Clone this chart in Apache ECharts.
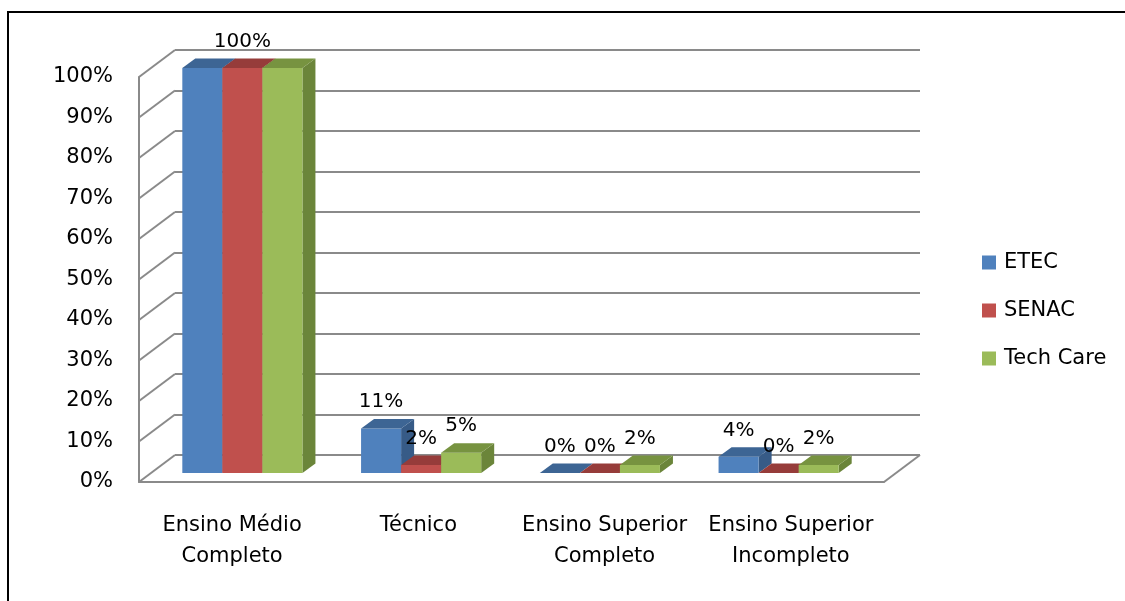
<!DOCTYPE html>
<html>
<head>
<meta charset="utf-8">
<style>
  html, body { margin: 0; padding: 0; background: #fff; }
  #app { width: 1125px; height: 601px; }
</style>
<script src="https://cdn.jsdelivr.net/npm/echarts@6.0.0/dist/echarts.min.js"></script>
</head>
<body>
<div id="app"></div>
<script>
// dados do gráfico
const categories = ['Ensino Médio\nCompleto', 'Técnico', 'Ensino Superior\nCompleto', 'Ensino Superior\nIncompleto'];
const seriesNames = ['ETEC', 'SENAC', 'Tech Care'];
const etec = [1.0, 0.11, 0.0, 0.04];
const senac = [1.0, 0.02, 0.0, 0.0];
const techCare = [1.0, 0.05, 0.02, 0.02];
const seriesValues = [etec, senac, techCare];

const FONT = 'DejaVu Sans';
const GRID_COLOR = '#8a8a8a';
// cores de frente / topo / lateral (estilo 3D do Excel)
const colors = [
  { front: '#4F81BD', top: '#3D6594', side: '#375B87' },
  { front: '#C0504D', top: '#963C3A', side: '#8A3634' },
  { front: '#9BBB59', top: '#779340', side: '#6B853A' }
];
// deslocamento da parede da frente em relação à do fundo
const WALL = [-36, 27];
// profundidade da barra
const DEPTH = [13, -9.5];
const LABEL_SIZE = 20;
const AXIS_SIZE = 21;

const myChart = echarts.init(document.getElementById('app'));

const yTicks = [];
for (let i = 0; i <= 10; i++) yTicks.push(i / 10);

const fmtPct = (v) => Math.round(v * 100) + '%';

function labelWidth(v) {
  return fmtPct(v).length * LABEL_SIZE * 0.6;
}

function barSeries(s) {
  return {
    name: seriesNames[s],
    type: 'custom',
    xAxisIndex: 2,
    yAxisIndex: 2,
    z: 5,
    itemStyle: { color: colors[s].front },
    data: seriesValues[s].map((v, c) => [c, v]),
    renderItem: (params, api) => {
      const c = api.value(0);
      const v = api.value(1);
      const base = api.coord([c, 0]);
      const top = api.coord([c, v]);
      const band = api.size([1, 0])[0];
      const w = band * 0.224;
      const x0 = base[0] - 1.5 * w + s * w;
      const x1 = x0 + w;
      const yb = base[1];
      const yt = top[1];
      const [dx, dy] = DEPTH;
      const children = [
        {
          type: 'polygon',
          shape: { points: [[x1, yt], [x1 + dx, yt + dy], [x1 + dx, yb + dy], [x1, yb]] },
          style: { fill: colors[s].side }
        },
        {
          type: 'rect',
          shape: { x: x0, y: yt, width: w, height: yb - yt },
          style: { fill: colors[s].front }
        },
        {
          type: 'polygon',
          shape: { points: [[x0, yt], [x1, yt], [x1 + dx, yt + dy], [x0 + dx, yt + dy]] },
          style: { fill: colors[s].top }
        }
      ];
      // esconde rótulo que colide com o rótulo da série do meio
      let hide = false;
      if (s !== 1) {
        const mid = seriesValues[1][c];
        const gap = Math.abs(s - 1) * w;
        if (gap < (labelWidth(v) + labelWidth(mid)) / 2 && mid === v) hide = true;
      }
      if (!hide) {
        children.push({
          type: 'text',
          style: {
            x: x0 + w / 2,
            y: yt + dy - 7,
            text: fmtPct(v),
            fill: '#000',
            font: LABEL_SIZE + 'px "' + FONT + '"',
            align: 'center',
            verticalAlign: 'bottom'
          }
        });
      }
      return { type: 'group', children };
    }
  };
}

const option = {
  animation: false,
  backgroundColor: '#fff',
  graphic: [
    {
      type: 'rect',
      shape: { x: 8, y: 12, width: 1300, height: 800 },
      style: { fill: null, stroke: '#000', lineWidth: 2 },
      z: 100
    }
  ],
  legend: {
    orient: 'vertical',
    left: 982,
    top: 252,
    padding: 0,
    itemWidth: 14,
    itemHeight: 14,
    itemGap: 27,
    icon: 'rect',
    data: seriesNames,
    textStyle: { fontFamily: FONT, fontSize: AXIS_SIZE, color: '#000', padding: [0, 0, 0, 3] }
  },
  grid: [
    // parede do fundo
    { left: 175, right: 205, top: 50, bottom: 146 },
    // plano da frente
    { left: 175 + WALL[0], right: 205 - WALL[0], top: 50 + WALL[1], bottom: 146 - WALL[1] },
    // plano das barras
    { left: 153, right: 257, top: 68, bottom: 128 }
  ],
  xAxis: [
    { gridIndex: 0, type: 'value', min: 0, max: 1, show: false },
    {
      gridIndex: 1,
      type: 'category',
      data: categories,
      axisLine: { show: true, lineStyle: { color: GRID_COLOR, width: 2 } },
      axisTick: { show: false },
      axisLabel: {
        interval: 0,
        margin: 28,
        fontFamily: FONT,
        fontSize: AXIS_SIZE,
        lineHeight: 31,
        color: '#000'
      }
    },
    { gridIndex: 2, type: 'category', data: categories, show: false }
  ],
  yAxis: [
    {
      gridIndex: 0,
      type: 'value',
      min: 0,
      max: 1,
      interval: 0.1,
      axisLine: { show: false },
      axisTick: { show: false },
      axisLabel: { show: false },
      splitLine: { show: true, lineStyle: { color: GRID_COLOR, width: 2 } }
    },
    {
      gridIndex: 1,
      type: 'value',
      min: 0,
      max: 1,
      interval: 0.1,
      axisLine: { show: true, lineStyle: { color: GRID_COLOR, width: 2 } },
      axisTick: { show: false },
      splitLine: { show: false },
      axisLabel: {
        margin: 26,
        formatter: fmtPct,
        fontFamily: FONT,
        fontSize: AXIS_SIZE,
        color: '#000'
      }
    },
    { gridIndex: 2, type: 'value', min: 0, max: 1, show: false }
  ],
  series: [
    {
      // parede lateral e chão
      type: 'custom',
      xAxisIndex: 0,
      yAxisIndex: 0,
      silent: true,
      z: 1,
      data: yTicks.map((v) => [0, v]),
      renderItem: (params, api) => {
        const p = api.coord([0, api.value(1)]);
        const lineStyle = { stroke: GRID_COLOR, lineWidth: 2 };
        const children = [
          {
            type: 'line',
            shape: { x1: p[0], y1: p[1], x2: p[0] + WALL[0], y2: p[1] + WALL[1] },
            style: lineStyle
          }
        ];
        if (api.value(1) === 0) {
          const r = api.coord([1, 0]);
          children.push({
            type: 'line',
            shape: { x1: r[0], y1: r[1], x2: r[0] + WALL[0], y2: r[1] + WALL[1] },
            style: lineStyle
          });
        }
        return { type: 'group', children };
      }
    },
    barSeries(0),
    barSeries(1),
    barSeries(2)
  ]
};

myChart.setOption(option);
</script>
</body>
</html>
